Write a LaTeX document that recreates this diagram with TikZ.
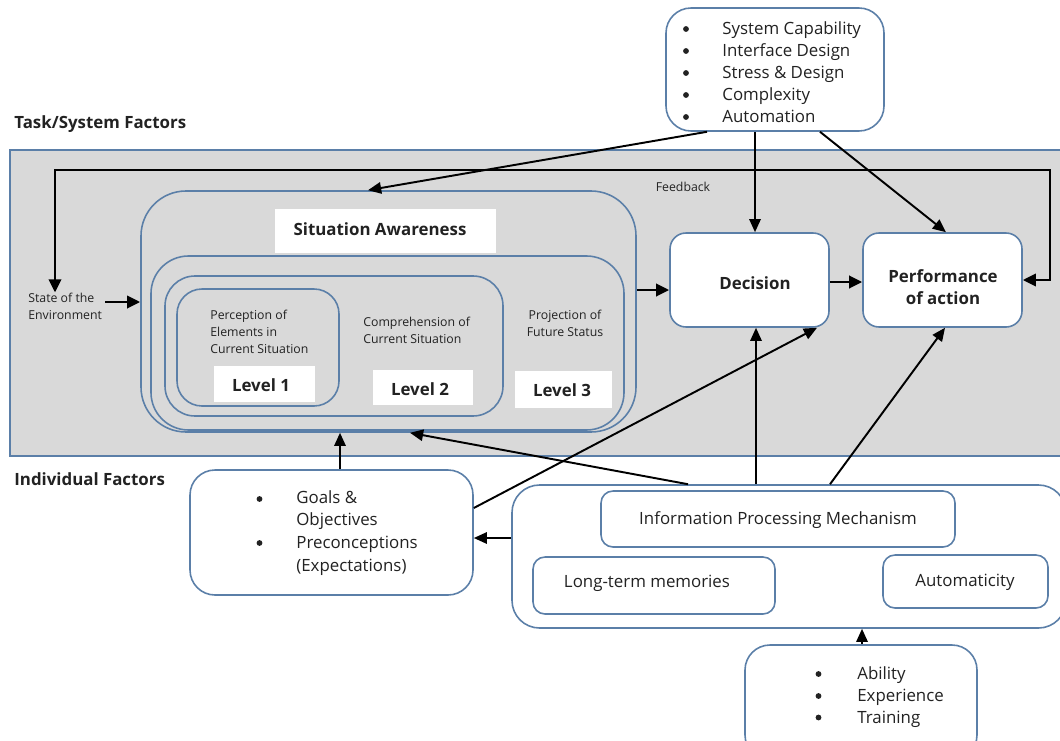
\documentclass[tikz,border=0pt]{standalone}
\usepackage{fontspec}
\setmainfont{Open Sans}
\usetikzlibrary{arrows.meta,fit,calc}
\definecolor{bdr}{HTML}{5B7FA8}
\definecolor{panelgray}{HTML}{D9D9D9}
\definecolor{txt}{HTML}{222222}
\newcommand\fmain{\fontsize{9.6}{12.5}\selectfont}
\newcommand\fsmall{\fontsize{7}{9.6}\selectfont}
\begin{document}
\begin{tikzpicture}[x=0.02cm,y=-0.02cm,
  box/.style={draw=bdr, line width=0.9pt, inner sep=0, fill=white, rounded corners=#1, text=txt, align=center},
  box/.default=0.32cm,
  frame/.style={draw=bdr, line width=0.9pt, inner sep=0, rounded corners=#1},
  whitebox/.style={fill=white, inner sep=0},
  blbl/.style={inner sep=0, text=txt, font=\bfseries\fmain, align=center},
  lbl/.style={inner sep=0, text=txt, font=\fmain},
  small/.style={inner sep=0, text=txt, font=\fsmall},
  bul/.style={fill=txt},
  conn/.style={line width=1.1pt, -{Triangle[length=7.5pt,width=6.5pt]}},
  fat/.style={line width=1.7pt, -{Triangle[length=7.5pt,width=7pt]}},
  fb/.style={line width=1.6pt, {Triangle[length=7.5pt,width=7pt]}-{Triangle[length=7.5pt,width=7pt]}},
]
\useasboundingbox (0,0) rectangle (1060,740);
\clip (0,0) rectangle (1060,740);

% gray panel
\node[fit={(10,150)(1066,456)}, inner sep=0, draw=bdr, fill=panelgray, line width=0.9pt] (panel) {};

% section labels
\node[anchor=west, inner sep=0, text=txt, font=\bfseries\fmain] (tsf) at (14,124) {Task/System Factors};
\node[anchor=west, inner sep=0, text=txt, font=\bfseries\fmain] (indf) at (14,479) {Individual Factors};

% top factors box
\node[box=0.5cm, fit={(666,8)(884,131)}] (top) {};
\node[anchor=north west, inner sep=0, text=txt] (toptxt) at (722,18.6)
  {\fmain\begin{tabular}{@{}l@{}}System Capability\\ Interface Design\\ Stress \& Design\\ Complexity\\ Automation\end{tabular}};
\foreach \yy in {29,51,73,95,117} \fill[bul] (686,\yy) circle (2.9);

% state of environment
\node[small, anchor=west, align=left] (env) at (28,306) {State of the\\Environment};
\node[small] (fbl) at (683,187) {Feedback};

% situation awareness nest
\node[frame=0.9cm, fit={(141,191)(636,432)}] (sa) {};
\node[frame=0.75cm, fit={(151,256)(624,430)}] (l3) {};
\node[frame=0.6cm, fit={(165,276)(503,416)}] (l2) {};
\node[frame=0.5cm, fit={(177,289)(339,406)}] (l1) {};
\node[whitebox, fit={(275,209)(496,253)}] (sabg) {};
\node[blbl] (satitle) at (380,229) {Situation Awareness};
\node[whitebox, fit={(214,366)(315,402)}] (lv1bg) {};
\node[blbl] (lv1) at (261,385) {Level 1};
\node[whitebox, fit={(373,370)(473,405)}] (lv2bg) {};
\node[blbl] (lv2) at (420,389) {Level 2};
\node[whitebox, fit={(515,371)(612,408)}] (lv3bg) {};
\node[blbl] (lv3) at (562,390) {Level 3};
\node[small, anchor=west, align=left] (perc) at (210,332) {Perception of\\Elements in\\Current Situation};
\node[small, anchor=west, align=left] (comp) at (363,330) {Comprehension of\\Current Situation};
\node[small, align=center] (proj) at (565,323.5) {Projection of\\Future Status};

% decision & performance
\node[box, fit={(670,233)(829,327)}] (dec) {};
\node[blbl] (dectxt) at (755,283) {Decision};
\node[box, fit={(863,233)(1022,327)}] (perf) {};
\node[blbl] (perftxt) at (943,287) {Performance\\of action};

% individual factors
\node[box=0.5cm, fit={(190,470)(473,595)}] (goals) {};
\node[anchor=north west, inner sep=0, text=txt] (goalstxt) at (296,487)
  {\fontsize{9.6}{12.9}\selectfont\begin{tabular}{@{}l@{}}Goals \&\\ Objectives\\ Preconceptions\\ (Expectations)\end{tabular}};
\foreach \yy in {499,543} \fill[bul] (259.5,\yy) circle (2.9);

\node[box=0.55cm, fit={(512,485)(1066,628)}] (ipmc) {};
\node[box=0.24cm, fit={(601,491)(955,547)}] (ipm) {};
\node[lbl] (ipmtxt) at (778,520) {Information Processing Mechanism};
\node[box=0.24cm, fit={(533,557)(775,614)}] (ltm) {};
\node[lbl] (ltmtxt) at (647,583) {Long-term memories};
\node[box=0.24cm, fit={(883,555)(1048,608)}] (auto) {};
\node[lbl] (autotxt) at (965,582) {Automaticity};

\node[box=0.5cm, fit={(745,645)(977,760)}] (abil) {};
\node[anchor=north west, inner sep=0, text=txt] (abiltxt) at (857,663.6)
  {\fmain\begin{tabular}{@{}l@{}}Ability\\ Experience\\ Training\end{tabular}};
\foreach \yy in {674,696,717.5} \fill[bul] (818.5,\yy) circle (2.9);

% connectors
\draw[fat] (env.east |- 0,302) ++(3,0) -- (sa.west |- 0,302);
\draw[fat] (sa.east |- 0,290) -- (dec.west |- 0,290);
\draw[fat] (dec.east |- 0,282) -- (perf.west |- 0,282);
\draw[fb] (perf.east |- 0,280) -- (1050,280) -- (1050,170) -- (55,170) -- (env.north -| 55,0);
\draw[conn] (top.south -| 707,0) -- (sa.north -| 368,0);
\draw[conn] (top.south -| 755,0) -- (dec.north -| 755,0);
\draw[conn] (top.south -| 820,0) -- (perf.north -| 946,0);
\draw[conn] (goals.north -| 340,0) -- (sa.south -| 340,0);
\draw[conn] (goals.east |- 0,508) -- (dec.south -| 817,0);
\draw[conn] (ipmc.west |- 0,538) -- (goals.east |- 0,538);
\draw[conn] (ipmc.north -| 688,0) -- (sa.south -| 410,0);
\draw[conn] (ipmc.north -| 756,0) -- (dec.south -| 756,0);
\draw[conn] (ipmc.north -| 830,0) -- (perf.south -| 945,0);
\draw[conn] (abil.north -| 862,0) -- (ipmc.south -| 862,0);
\end{tikzpicture}
\end{document}
